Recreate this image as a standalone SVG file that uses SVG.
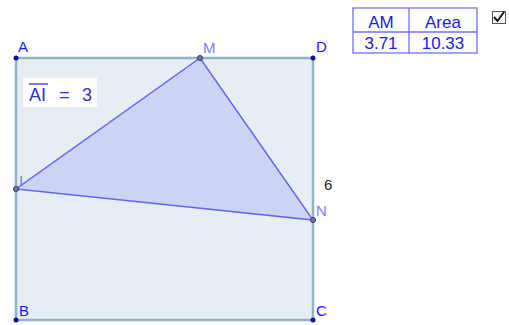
<svg xmlns="http://www.w3.org/2000/svg" width="509" height="325" viewBox="0 0 509 325">
<style>
.lbl{font-family:"Liberation Sans",Arial,sans-serif;font-size:15px}
.dk{fill:#1a1aff}
.lt{fill:#7b7bff}
.tb{font-family:"Liberation Sans",Arial,sans-serif;font-size:17px;fill:#2020e0;text-anchor:middle}
.ai{font-family:"Liberation Sans",Arial,sans-serif;font-size:18px;fill:#3030d0}
.pt{fill:#1010a0}
.pt2{fill:#7a7a9a;stroke:#303070;stroke-width:1}
</style>
<rect width="509" height="325" fill="#ffffff"/>
<g id="square">
<rect x="16" y="58" width="297" height="262" fill="#e6eef4" stroke="#8fb4c8" stroke-width="2.5"/>
</g>
<g id="triangle">
<polygon points="200,58 16,189 313,220" fill="#ccd4f4" stroke="#6464f0" stroke-width="1.5"/>
</g>
<g id="label-AI">
<rect x="23" y="78" width="74" height="29" fill="#ffffff"/>
<line x1="29" y1="84" x2="48" y2="84" stroke="#3030d0" stroke-width="1.3"/>
<text x="29" y="101" class="ai">AI</text>
<text x="59" y="101" class="ai">=</text>
<text x="82" y="101" class="ai">3</text>
</g>
<g id="A"><circle cx="16" cy="58" r="2.5" class="pt"/><text x="18" y="52" class="lbl dk">A</text></g>
<g id="D"><circle cx="313" cy="58" r="2.5" class="pt"/><text x="316" y="52" class="lbl dk">D</text></g>
<g id="B"><circle cx="16" cy="320" r="2.5" class="pt"/><text x="19" y="316" class="lbl dk">B</text></g>
<g id="C"><circle cx="313" cy="320" r="2.5" class="pt"/><text x="316" y="316" class="lbl dk">C</text></g>
<g id="M"><circle cx="200" cy="58" r="2.5" class="pt2"/><text x="203" y="53" class="lbl lt">M</text></g>
<g id="I"><circle cx="16" cy="189" r="2.5" class="pt2"/><text x="19" y="186" class="lbl lt">I</text></g>
<g id="N"><circle cx="313" cy="220" r="2.5" class="pt2"/><text x="316" y="216" class="lbl lt">N</text></g>
<g id="side-label"><text x="324" y="190" class="lbl" fill="#222222">6</text></g>
<g id="table">
<rect x="353" y="8" width="124" height="45" fill="#ffffff" stroke="#7070ff" stroke-width="1.3"/>
<line x1="353" y1="32" x2="477" y2="32" stroke="#7070ff" stroke-width="1.3"/>
<line x1="409" y1="8" x2="409" y2="53" stroke="#7070ff" stroke-width="1.3"/>
<text x="381" y="28" class="tb">AM</text>
<text x="443" y="28" class="tb">Area</text>
<text x="381" y="49" class="tb">3.71</text>
<text x="443" y="49" class="tb">10.33</text>
</g>
<g id="checkbox">
<rect x="492.5" y="11.5" width="13" height="12" fill="#ffffff" stroke="#555555" stroke-width="1"/>
<path d="M494,17 L497.5,21 L504,12" fill="none" stroke="#111111" stroke-width="2"/>
</g>
</svg>
